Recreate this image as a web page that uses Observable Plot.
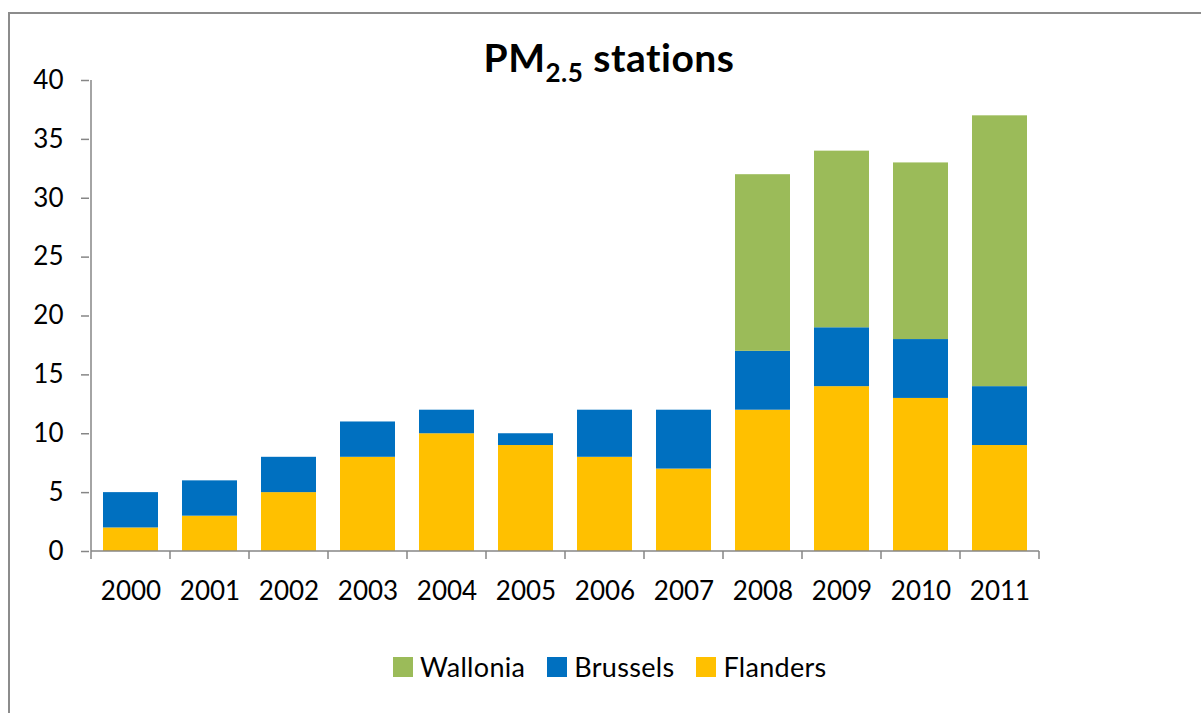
<!DOCTYPE html>
<html>
<head>
<meta charset="utf-8">
<script src="https://cdn.jsdelivr.net/npm/d3@7"></script>
<script src="https://cdn.jsdelivr.net/npm/@observablehq/plot@0.6"></script>
<style>
  html, body { margin: 0; padding: 0; background: #fff; }
  body { width: 1201px; height: 713px; position: relative; overflow: hidden; font-family: Lato, "Open Sans", sans-serif; }
  #border { position: absolute; left: 8px; top: 12px; width: 1300px; height: 800px; border: 2px solid #8c8c8c; box-sizing: border-box; }
  #title { position: absolute; left: 609px; top: 38px; transform: translateX(-50%); font-size: 39px; font-weight: 700; letter-spacing: 0.5px; line-height: 1; white-space: nowrap; color: #000; }
  #title sub { font-size: 26px; vertical-align: -10px; line-height: 0; }
  #chart { position: absolute; left: 0; top: 0; }
  #legend { position: absolute; top: 650px; left: 393px; display: flex; align-items: center; font-size: 27px; letter-spacing: 0.3px; color: #000; white-space: nowrap; }
  .item { display: flex; align-items: center; margin-right: 22px; }
  .sw { width: 20px; height: 20px; margin-right: 7px; }
</style>
</head>
<body>
<div id="border"></div>
<div id="chart"></div>
<div id="title">PM<sub>2.5</sub> stations</div>
<div id="legend"></div>
<script>
const years = ["2000","2001","2002","2003","2004","2005","2006","2007","2008","2009","2010","2011"];
const flanders = [2, 3, 5, 8, 10, 9, 8, 7, 12, 14, 13, 9];
const brussels = [3, 3, 3, 3, 2, 1, 4, 5, 5, 5, 5, 5];
const wallonia = [0, 0, 0, 0, 0, 0, 0, 0, 15, 15, 15, 23];
const seriesNames = ["Flanders", "Brussels", "Wallonia"];
const seriesColors = ["#FFC000", "#0070C0", "#9BBB59"];
const yTicks = [0, 5, 10, 15, 20, 25, 30, 35, 40];
const legendOrder = ["Wallonia", "Brussels", "Flanders"];

const seriesValues = {Flanders: flanders, Brussels: brussels, Wallonia: wallonia};
const data = [];
for (const s of seriesNames) {
  years.forEach((y, i) => data.push({year: y, series: s, value: seriesValues[s][i]}));
}

const axisColor = "#868686";

const axesLines = (index, scales, values, dimensions) => {
  const x = scales.x, y = scales.y;
  const step = x.step(), bw = x.bandwidth();
  const y0 = y(0), yTop = y(40);
  const g = d3.create("svg:g").attr("stroke", axisColor).attr("stroke-width", 1.5).attr("fill", "none");
  const bounds = years.map(d => x(d) - (step - bw) / 2);
  bounds.push(x(years[years.length - 1]) + bw + (step - bw) / 2);
  g.selectAll("line.t").data(bounds).join("line")
    .attr("x1", d => d).attr("x2", d => d).attr("y1", y0).attr("y2", y0 + 8);
  g.append("line").attr("x1", bounds[0]).attr("x2", bounds[bounds.length - 1]).attr("y1", y0).attr("y2", y0);
  g.append("line").attr("x1", bounds[0]).attr("x2", bounds[0]).attr("y1", yTop).attr("y2", y0);
  return g.node();
};

const chart = Plot.plot({
  width: 1201,
  height: 640,
  marginLeft: 89,
  marginRight: 160,
  marginTop: 80,
  marginBottom: 89,
  style: {fontFamily: "Lato, 'Open Sans', sans-serif", color: "#000", background: "transparent", overflow: "visible"},
  x: {domain: years, paddingInner: 0.3, paddingOuter: 0.15, label: null},
  y: {domain: [0, 40], label: null},
  color: {domain: seriesNames, range: seriesColors},
  marks: [
    Plot.barY(data, {x: "year", y: "value", fill: "series", order: seriesNames}),
    Plot.axisY({ticks: yTicks, tickSize: 8, tickPadding: 18, stroke: axisColor, strokeWidth: 1.5, fontSize: 26, fill: "#000", label: null}),
    Plot.axisX({tickSize: 0, tickPadding: 30, fontSize: 26, fill: "#000", label: null}),
    axesLines
  ]
});
document.getElementById("chart").appendChild(chart);

const legend = document.getElementById("legend");
for (const name of legendOrder) {
  const item = document.createElement("div");
  item.className = "item";
  const sw = document.createElement("div");
  sw.className = "sw";
  sw.style.background = seriesColors[seriesNames.indexOf(name)];
  const t = document.createElement("span");
  t.textContent = name;
  item.appendChild(sw);
  item.appendChild(t);
  legend.appendChild(item);
}
</script>
</body>
</html>
